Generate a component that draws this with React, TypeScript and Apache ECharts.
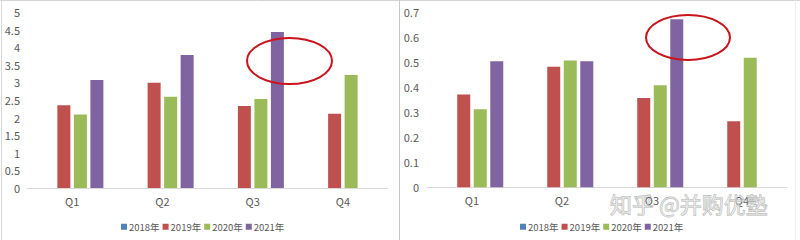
import React, { useEffect, useRef } from "react";
import * as echarts from "echarts";

const categories = ["Q1", "Q2", "Q3", "Q4"];
const seriesNames = ["2018年", "2019年", "2020年", "2021年"];
const colors = ["#4f81bd", "#c0504d", "#9bbb59", "#8064a2"];

// Left chart
const left2018: (number | null)[] = [null, null, null, null];
const left2019 = [2.35, 2.99, 2.33, 2.11];
const left2020 = [2.09, 2.59, 2.53, 3.21];
const left2021: (number | null)[] = [3.07, 3.78, 4.43, null];

// Right chart
const right2018: (number | null)[] = [null, null, null, null];
const right2019 = [0.371, 0.481, 0.357, 0.264];
const right2020 = [0.312, 0.506, 0.408, 0.517];
const right2021: (number | null)[] = [0.503, 0.503, 0.671, null];

const FONT = "'Noto Sans CJK SC', 'Noto Sans', sans-serif";
const TXT = "#595959";

export default function App() {
  const ref = useRef<HTMLDivElement>(null);
  useEffect(() => {
    document.body.style.margin = "0";
    const chart = echarts.init(ref.current!, null, { renderer: "svg" });
    const leftData = [left2018, left2019, left2020, left2021];
    const rightData = [right2018, right2019, right2020, right2021];
    const mkSeries = (data: (number | null)[][], idx: number) =>
      data.map((d, i) => ({
        name: seriesNames[i],
        type: "bar" as const,
        xAxisIndex: idx,
        yAxisIndex: idx,
        data: d,
        barWidth: 13,
        barGap: "27%",
        itemStyle: { color: colors[i] },
      }));
    const xAxisCommon = {
      type: "category" as const,
      data: categories,
      axisLine: { lineStyle: { color: "#d9d9d9" } },
      axisTick: { show: false },
      axisLabel: { color: TXT, fontSize: 11, fontFamily: FONT, margin: 7 },
    };
    const yAxisCommon = {
      type: "value" as const,
      axisLine: { show: false },
      axisTick: { show: false },
      splitLine: { show: false },
      axisLabel: { color: TXT, fontSize: 11, fontFamily: FONT },
    };
    const legendCommon = {
      itemWidth: 6,
      itemHeight: 6,
      itemGap: 3,
      icon: "rect",
      textStyle: { color: TXT, fontSize: 9.5, fontFamily: FONT, padding: [0, 0, 0, -3] },
      data: seriesNames,
      top: 217,
    };
    chart.setOption({
      animation: false,
      backgroundColor: "#ffffff",
      grid: [
        { left: 27, right: 412, top: 12, bottom: 52 },
        { left: 427, right: 13, top: 12, bottom: 52.7 },
      ],
      xAxis: [
        { ...xAxisCommon, gridIndex: 0 },
        { ...xAxisCommon, gridIndex: 1 },
      ],
      yAxis: [
        { ...yAxisCommon, gridIndex: 0, min: 0, max: 5, interval: 0.5, axisLabel: { ...yAxisCommon.axisLabel, margin: 7 } },
        { ...yAxisCommon, gridIndex: 1, min: 0, max: 0.7, interval: 0.1, axisLabel: { ...yAxisCommon.axisLabel, margin: 8 } },
      ],
      legend: [
        { ...legendCommon, left: 116 },
        { ...legendCommon, left: 515 },
      ],
      series: [...mkSeries(leftData, 0), ...mkSeries(rightData, 1)],
      graphic: [
        { type: "line", shape: { x1: 0, y1: 0.5, x2: 800, y2: 0.5 }, style: { stroke: "#d4d4d4", lineWidth: 1 } },
        { type: "line", shape: { x1: 1.5, y1: 0, x2: 1.5, y2: 240 }, style: { stroke: "#d9d9d9", lineWidth: 1 } },
        { type: "line", shape: { x1: 399.5, y1: 0, x2: 399.5, y2: 240 }, style: { stroke: "#c8c8c8", lineWidth: 1 } },
        { type: "line", shape: { x1: 795.5, y1: 0, x2: 795.5, y2: 240 }, style: { stroke: "#eeeeee", lineWidth: 1 } },
        { type: "ellipse", z: 100, shape: { cx: 289.5, cy: 61, rx: 42.5, ry: 23 }, style: { fill: "none", stroke: "#c9141b", lineWidth: 2 } },
        { type: "ellipse", z: 100, shape: { cx: 688, cy: 37.5, rx: 42, ry: 22.5 }, style: { fill: "none", stroke: "#c9141b", lineWidth: 2 } },
        {
          type: "text",
          z: 100,
          x: 610,
          y: 203,
          style: {
            text: "知乎 @并购优塾",
            font: "22px 'Noto Sans CJK SC'",
            fill: "rgba(235,235,235,0.55)",
            stroke: "rgba(165,165,165,0.85)",
            lineWidth: 0.8,
            verticalAlign: "middle",
            textAlign: "left",
          },
        },
      ],
    });
    return () => chart.dispose();
  }, []);
  return <div ref={ref} style={{ width: 800, height: 240 }} />;
}
